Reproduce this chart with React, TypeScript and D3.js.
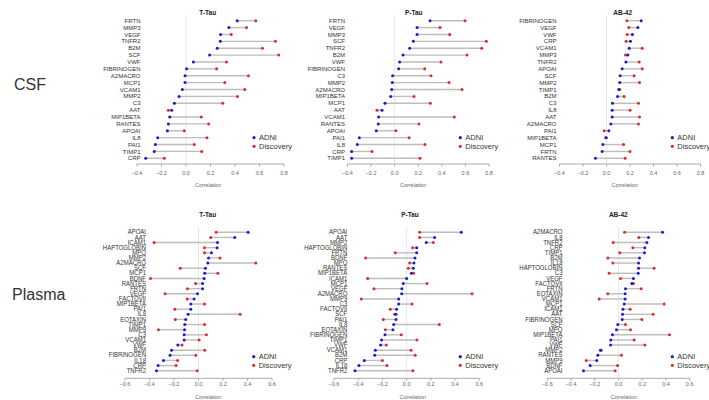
import React from "react";
import * as d3 from "d3";

const csfTicks = [-0.4, -0.2, 0, 0.2, 0.4, 0.6, 0.8];
const plasmaTicks = [-0.6, -0.4, -0.2, 0, 0.2, 0.4, 0.6];
const groupLabels = ["CSF", "Plasma"];
const seriesNames = ["ADNI", "Discovery"];

// CSF T-Tau
const csfTTauMarkers = ["FRTN","MMP3","VEGF","TNFR2","B2M","SCF","VWF","FIBRINOGEN","A2MACRO","MCP1","VCAM1","MMP2","C3","AAT","MIP1BETA","RANTES","APOAI","IL8","PAI1","TIMP1","CRP"];
const csfTTauADNI = [0.418,0.35,0.282,0.28,0.255,0.193,0.06,0.005,-0.008,-0.008,-0.03,-0.057,-0.095,-0.117,-0.133,-0.144,-0.152,-0.231,-0.25,-0.259,-0.329];
const csfTTauDiscovery = [0.57,0.494,0.369,0.73,0.624,0.757,0.331,0.25,0.51,0.317,0.48,0.42,0.3,-0.144,0.125,0.185,-0.014,0.171,0.068,0.128,-0.177];

// CSF P-Tau
const csfPTauMarkers = ["FRTN","VEGF","MMP3","SCF","TNFR2","B2M","VWF","FIBRINOGEN","C3","MMP2","A2MACRO","MIP1BETA","MCP1","AAT","VCAM1","RANTES","APOAI","PAI1","IL8","CRP","TIMP1"];
const csfPTauADNI = [0.3,0.19,0.19,0.158,0.127,0.071,0.042,0.034,-0.017,-0.02,-0.025,-0.034,-0.082,-0.107,-0.136,-0.139,-0.156,-0.3,-0.317,-0.365,-0.365];
const csfPTauDiscovery = [0.597,0.385,0.467,0.778,0.738,0.614,0.393,0.255,0.308,0.461,0.571,0.164,0.303,-0.15,0.506,0.206,0.011,0.122,0.257,-0.192,0.215];

// CSF AB-42
const csfAB42Markers = ["FIBRINOGEN","VEGF","VWF","CRP","VCAM1","MMP3","TNFR2","APOAI","SCF","MMP2","TIMP1","B2M","C3","IL8","AAT","A2MACRO","PAI1","MIP1BETA","MCP1","FRTN","RANTES"];
const csfAB42ADNI = [0.295,0.267,0.221,0.204,0.193,0.182,0.165,0.133,0.116,0.113,0.105,0.094,0.051,0.048,0.048,0.037,0.02,-0.006,-0.031,-0.037,-0.094];
const csfAB42Discovery = [0.173,0.19,0.176,0.167,0.304,0.162,0.278,0.304,0.235,0.281,0.113,0.15,0.272,0.2,0.281,0.272,-0.02,0.0,0.145,0.2,0.159];

// Plasma T-Tau
const plasmaTTauMarkers = ["APOAI","AAT","ICAM1","HAPTOGLOBIN","MPO","MMP2","A2MACRO","SCF","MCP1","BDNF","RANTES","FRTN","VEGF","FACTOVII","MIP1BETA","PAI1","IL8","EOTAXIN","TIMP1","MMP9","C3","VCAM1","VWF","B2M","FIBRINOGEN","IL18","CRP","TNFR2"];
const plasmaTTauADNI = [0.405,0.296,0.155,0.152,0.106,0.082,0.076,0.057,0.051,0.046,0.033,0.033,-0.008,-0.036,-0.063,-0.063,-0.085,-0.104,-0.112,-0.114,-0.117,-0.117,-0.169,-0.22,-0.232,-0.286,-0.33,-0.343];
const plasmaTTauDiscovery = [0.144,0.1,-0.362,0.049,0.049,0.176,0.468,-0.149,0.158,-0.392,-0.024,-0.09,-0.273,-0.093,0.049,-0.193,0.34,-0.19,0.049,-0.327,0.065,0.005,-0.134,0.051,-0.022,-0.171,-0.183,-0.011];

// Plasma P-Tau
const plasmaPTauMarkers = ["APOAI","AAT","MMP2","HAPTOGLOBIN","FRTN","BDNF","MPO","RANTES","MIP1BETA","ICAM1","MCP1","VEGF","A2MACRO","MMP9","C3","FACTOVII","SCF","PAI1","IL8","EOTAXIN","FIBRINOGEN","TIMP1","VWF","VCAM1","B2M","CRP","IL18","TNFR2"];
const plasmaPTauADNI = [0.451,0.231,0.162,0.083,0.083,0.069,0.06,0.055,0.039,0.0,-0.028,-0.039,-0.041,-0.066,-0.066,-0.083,-0.088,-0.088,-0.107,-0.113,-0.179,-0.207,-0.215,-0.259,-0.264,-0.35,-0.394,-0.427];
const plasmaPTauDiscovery = [0.107,0.107,0.22,0.05,-0.094,-0.339,0.025,0.014,0.058,-0.322,0.168,-0.27,0.54,-0.375,0.044,-0.135,-0.099,-0.193,0.27,-0.176,-0.044,0.085,-0.168,0.036,0.071,-0.2,-0.163,0.052];

// Plasma AB-42
const plasmaAB42Markers = ["A2MACRO","IL8","TNFR2","CRP","TIMP1","B2M","IL18","HAPTOGLOBIN","C3","VEGF","FACTOVII","FRTN","EOTAXIN","VCAM1","MCP1","ICAM1","AAT","FIBRINOGEN","SCF","MPO","MIP1BETA","PAI1","VWF","MMP2","RANTES","MMP9","BDNF","APOAI"];
const plasmaAB42ADNI = [0.371,0.253,0.239,0.222,0.219,0.177,0.169,0.169,0.166,0.126,0.112,0.059,0.056,0.056,0.048,0.037,0.034,0.031,-0.006,-0.017,-0.051,-0.065,-0.067,-0.152,-0.174,-0.183,-0.239,-0.295];
const plasmaAB42Discovery = [0.051,0.171,-0.045,0.121,0.011,-0.09,-0.048,0.3,-0.079,0.017,0.126,0.191,-0.09,-0.163,0.385,0.098,0.292,0.197,0.059,0.101,0.43,0.132,0.222,-0.146,0.025,-0.272,-0.008,-0.028];

const panels = [
  { title: "T-Tau", markers: csfTTauMarkers, adni: csfTTauADNI, disc: csfTTauDiscovery, ticks: csfTicks,
    px: [137, 284], top: 20.7, bottom: 158.3, plotTop: 15, axisY: 164, titleX: 207.7, titleY: 14.5, labelX: 140.5, xlabX: 208.2, legX: 254, legY: 137.7, plasma: false },
  { title: "P-Tau", markers: csfPTauMarkers, adni: csfPTauADNI, disc: csfPTauDiscovery, ticks: csfTicks,
    px: [347.5, 489], top: 20.7, bottom: 158.3, plotTop: 15, axisY: 164, titleX: 413.8, titleY: 14.5, labelX: 345, xlabX: 413.2, legX: 460.3, legY: 137.7, plasma: false },
  { title: "AB-42", markers: csfAB42Markers, adni: csfAB42ADNI, disc: csfAB42Discovery, ticks: csfTicks,
    px: [559.5, 700.5], top: 20.7, bottom: 158.3, plotTop: 15, axisY: 164, titleX: 622.7, titleY: 14.5, labelX: 556.5, xlabX: 624.8, legX: 672.3, legY: 137.7, plasma: false },
  { title: "T-Tau", markers: plasmaTTauMarkers, adni: plasmaTTauADNI, disc: plasmaTTauDiscovery, ticks: plasmaTicks,
    px: [125, 272], top: 232.3, bottom: 370.7, plotTop: 226.5, axisY: 378.3, titleX: 207.7, titleY: 217, labelX: 146, xlabX: 208.2, legX: 253.7, legY: 356.7, plasma: true },
  { title: "P-Tau", markers: plasmaPTauMarkers, adni: plasmaPTauADNI, disc: plasmaPTauDiscovery, ticks: plasmaTicks,
    px: [334, 479.3], top: 232.3, bottom: 370.7, plotTop: 226.5, axisY: 378.3, titleX: 410, titleY: 217, labelX: 347.3, xlabX: 412.8, legX: 460.3, legY: 356.7, plasma: true },
  { title: "AB-42", markers: plasmaAB42Markers, adni: plasmaAB42ADNI, disc: plasmaAB42Discovery, ticks: plasmaTicks,
    px: [547.3, 689.7], top: 232.3, bottom: 370.7, plotTop: 226.5, axisY: 378.3, titleX: 618.3, titleY: 217, labelX: 562.5, xlabX: 623.8, legX: 672.3, legY: 356.7, plasma: true },
];

const BLUE = "#1a1acc";
const RED = "#dd2a2a";
const SEG = "#bdbdbd";
const FONT = "'Liberation Sans', Arial, sans-serif";

function Panel({ p }: { p: any }) {
  const dom = d3.extent(p.ticks) as [number, number];
  const x = d3.scaleLinear().domain(dom).range(p.px);
  const y = d3.scalePoint<string>().domain(p.markers).range([p.top, p.bottom]);
  const labelScale = p.plasma ? 1.15 : 1;
  return (
    <g>
      <text x={p.titleX} y={p.titleY} textAnchor="middle" fontSize={6.5} fontWeight="bold" fill="#222">{p.title}</text>
      <line x1={x(0)} x2={x(0)} y1={p.plotTop} y2={p.axisY - 1} stroke="#e2e2e2" strokeWidth={0.8} />
      {p.markers.map((m: string, i: number) => {
        const yy = y(m) as number;
        return (
          <g key={m}>
            <line x1={x(p.adni[i])} x2={x(p.disc[i])} y1={yy} y2={yy} stroke={SEG} strokeWidth={1.4} />
            <circle cx={x(p.disc[i])} cy={yy} r={1.5} fill={RED} />
            <circle cx={x(p.adni[i])} cy={yy} r={1.5} fill={BLUE} />
            <text x={p.labelX} y={0} textAnchor="end" fontSize={6} fill="#333"
              transform={`translate(0,${yy + 2.1}) scale(1,${labelScale})`}>{m}</text>
          </g>
        );
      })}
      <line x1={p.px[0]} x2={p.px[1]} y1={p.axisY} y2={p.axisY} stroke="#888" strokeWidth={0.7} />
      {p.ticks.map((t: number) => (
        <g key={t}>
          <line x1={x(t)} x2={x(t)} y1={p.axisY} y2={p.axisY + 2.5} stroke="#888" strokeWidth={0.7} />
          <text x={x(t)} y={p.axisY + (p.plasma ? 7.8 : 10.7)} textAnchor="middle" fontSize={5.5} fill="#666">{d3.format(".1f")(t)}</text>
        </g>
      ))}
      <text x={p.xlabX} y={p.axisY + (p.plasma ? 20.3 : 23)} textAnchor="middle" fontSize={5.4} fill="#666">Correlation</text>
      {seriesNames.map((s, k) => (
        <g key={s}>
          <circle cx={p.legX} cy={p.legY + k * 8.6} r={1.6} fill={k === 0 ? BLUE : RED} />
          <text x={p.legX + 5} y={p.legY + k * 8.6 + 2.6} fontSize={7.5} fill="#333">{s}</text>
        </g>
      ))}
    </g>
  );
}

export default function App() {
  return (
    <div style={{ position: "absolute", left: 0, top: 0 }}>
      <svg width={709} height={400} style={{ display: "block", background: "#fff", fontFamily: FONT }}>
        <text x={14} y={90} fontSize={16} fill="#333">{groupLabels[0]}</text>
        <text x={12} y={299.5} fontSize={16} fill="#333">{groupLabels[1]}</text>
        {panels.map((p, i) => <Panel key={i} p={p} />)}
      </svg>
    </div>
  );
}
